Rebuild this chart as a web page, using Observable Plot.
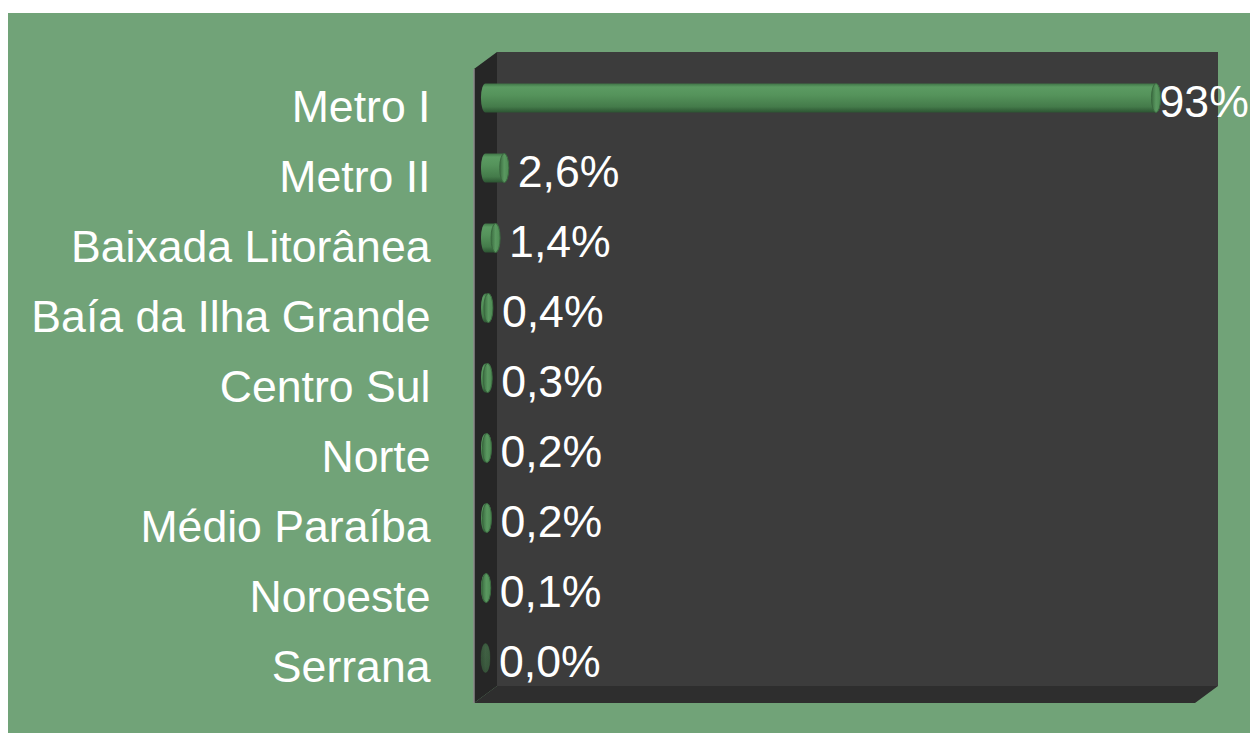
<!DOCTYPE html>
<html>
<head>
<meta charset="utf-8">
<script src="https://cdn.jsdelivr.net/npm/d3@7"></script>
<script src="https://cdn.jsdelivr.net/npm/@observablehq/plot@0.6"></script>
<style>
  html, body { margin: 0; background: #ffffff; }
  body { padding: 13px 0 0 8px; width: 1242px; height: 720px; overflow: hidden; }
</style>
</head>
<body>
<div id="chart"></div>
<script>
const regions = ["Metro I", "Metro II", "Baixada Litorânea", "Baía da Ilha Grande", "Centro Sul", "Norte", "Médio Paraíba", "Noroeste", "Serrana"];
const values = [93, 2.6, 1.4, 0.4, 0.3, 0.2, 0.2, 0.1, 0.0];
const labels = ["93%", "2,6%", "1,4%", "0,4%", "0,3%", "0,2%", "0,2%", "0,1%", "0,0%"];

const data = regions.map((r, i) => ({region: r, value: values[i], label: labels[i]}));

const FONT = "'Liberation Sans', Arial, sans-serif";
const FS = 44.6;
const DX = 11.5, DY = 8.5; // half depth of the 3D box

// 3D box (back wall, side wall, floor) drawn around the plot frame
function box(index, scales, values, dim) {
  const L = dim.marginLeft, R = dim.width - dim.marginRight;
  const T = dim.marginTop, B = dim.height - dim.marginBottom;
  const g = d3.create("svg:g");
  g.append("rect").attr("x", L + DX).attr("y", T - DY).attr("width", R - L).attr("height", B - T).attr("fill", "#3c3c3c");
  g.append("polygon").attr("points", [[L - DX, T + DY], [L + DX, T - DY], [L + DX, B - DY], [L - DX, B + DY]].join(" ")).attr("fill", "#262626");
  g.append("polygon").attr("points", [[L - DX, B + DY], [L + DX, B - DY], [R + DX, B - DY], [R - DX, B + DY]].join(" ")).attr("fill", "#2e2e2e");
  g.append("line").attr("x1", L - DX).attr("x2", L - DX).attr("y1", T + DY).attr("y2", B + DY).attr("stroke", "#8a8a8a").attr("stroke-width", 1.5);
  return g.node();
}

const svg = Plot.plot({
  width: 1242,
  height: 720,
  marginLeft: 477.5,
  marginRight: 43.5,
  marginTop: 47.5,
  marginBottom: 38.5,
  style: {background: "#71a378", fontFamily: FONT},
  x: {domain: [0, 100], axis: null},
  y: {domain: regions, axis: null, paddingInner: 0.6, paddingOuter: 0.3},
  marks: [
    box,
    // cylinder body
    Plot.barX(data, {x1: 0, x2: "value", y: "region", insetLeft: -4.5, insetRight: -4.5, insetTop: -0.5, insetBottom: -0.5, rx: 4.5, ry: 14,
      fill: "url(#barGrad)", fillOpacity: d => d.value === 0 ? 0.3 : 1}),
    // cylinder end cap
    Plot.barX(data, {x1: "value", x2: "value", y: "region", insetLeft: -4.5, insetRight: -4.5, insetTop: -0.5, insetBottom: -0.5, rx: 4.5, ry: 14,
      fill: "url(#capGrad)", stroke: "#3a683f", strokeWidth: 1, fillOpacity: d => d.value === 0 ? 0.3 : 1, strokeOpacity: d => d.value === 0 ? 0.3 : 1}),
    // category labels
    Plot.text(regions, {frameAnchor: "left", y: d => d, text: d => d, textAnchor: "end", dx: -55.5, dy: 9,
      fill: "white", fontSize: FS, fontFamily: FONT}),
    // value labels
    Plot.text(data, {filter: d => d.value < 50, x: "value", y: "region", text: "label", textAnchor: "start", dx: 13, dy: 4,
      fill: "white", fontSize: FS, fontFamily: FONT}),
    Plot.text(data, {filter: d => d.value >= 50, x: "value", y: "region", text: "label", textAnchor: "start", dx: 3, dy: 4,
      fill: "white", fontSize: FS, fontFamily: FONT})
  ]
});

const defs = d3.select(svg).insert("defs", ":first-child");
const bg = defs.append("linearGradient").attr("id", "barGrad").attr("x1", 0).attr("y1", 0).attr("x2", 0).attr("y2", 1);
[[0, "#3f7446"], [0.12, "#5b9b62"], [0.4, "#55935b"], [0.8, "#447b4a"], [1, "#2c5432"]].forEach(([o, c]) =>
  bg.append("stop").attr("offset", o).attr("stop-color", c));
const cg = defs.append("linearGradient").attr("id", "capGrad").attr("x1", 0).attr("y1", 0).attr("x2", 1).attr("y2", 0);
[[0, "#3b6d41"], [0.5, "#5a9860"], [1, "#4d8a53"]].forEach(([o, c]) =>
  cg.append("stop").attr("offset", o).attr("stop-color", c));

document.getElementById("chart").appendChild(svg);
</script>
</body>
</html>
